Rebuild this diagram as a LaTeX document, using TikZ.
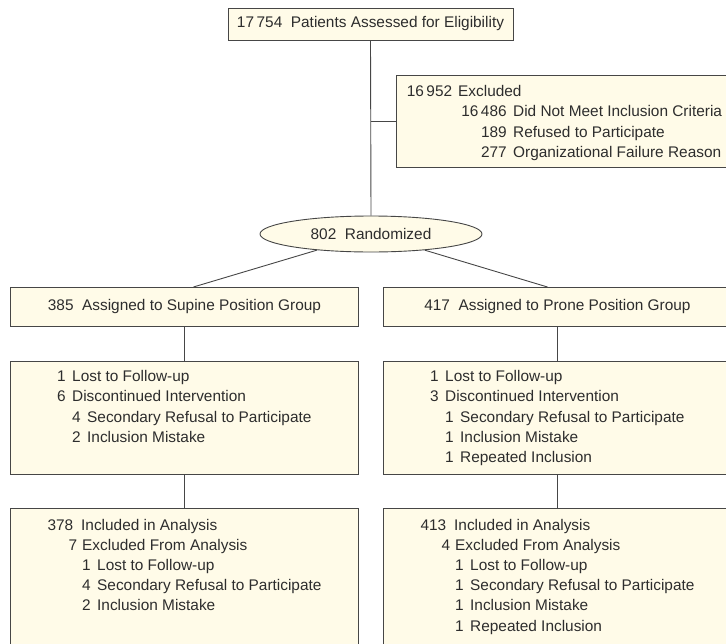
\documentclass[tikz,border=0pt]{standalone}
\usepackage{fontspec}
\setmainfont{Liberation Sans}
\usetikzlibrary{calc,shapes.geometric}

\definecolor{cream}{RGB}{255,251,232}
\definecolor{edge}{RGB}{70,70,70}
\definecolor{ink}{RGB}{45,45,45}

% one line of a count list: text starts at #2, count right-aligned before it
\newcommand{\flowrow}[4][6.5pt]{\makebox[#2][r]{#3\hspace{#1}}#4}

\begin{document}
\begin{tikzpicture}[x=1pt, y=-1pt,
  stagebox/.style={draw=edge, fill=cream, line width=0.9pt, inner sep=0pt, anchor=north west},
  oval/.style={ellipse, draw=edge, fill=cream, line width=0.9pt, inner sep=0pt,
    minimum width=222pt, minimum height=36pt},
  txt/.style={font=\fontsize{15.4}{20.2}\selectfont, text=ink, inner sep=0pt},
  list/.style={txt, anchor=base west},
  link/.style={draw=edge, line width=0.9pt}]

  \useasboundingbox (0,0) rectangle (726,643);
  \clip (0,0) rectangle (726,643);

  % enrollment
  \node[stagebox, txt, anchor=center, minimum width=285pt, minimum height=32pt]
    (assess) at (370.5,24) {17\,754\ \ Patients Assessed for Eligibility};
  \node[oval, txt] (rand) at (371,234) {802\ \ Randomized};

  % excluded before randomization
  \node[stagebox, minimum width=354pt, minimum height=92pt] (excl) at (396,75) {};
  \node[list] (excltxt) at ($(excl.north west)+(0,21.7)$) {\begin{tabular}[t]{@{}l@{}}
    \flowrow[6pt]{62pt}{16\,952}{Excluded}\\
    \flowrow{117pt}{16\,486}{Did Not Meet Inclusion Criteria}\\
    \flowrow{117pt}{189}{Refused to Participate}\\
    \flowrow{117pt}{277}{Organizational Failure Reason}
  \end{tabular}};

  % allocation
  \node[stagebox, txt, minimum width=348pt, minimum height=39pt] (supine) at (10,287) {};
  \node[txt] (supinetxt) at (supine.center) {385\ \ Assigned to Supine Position Group};
  \node[stagebox, txt, minimum width=348pt, minimum height=39pt] (prone) at (383,287) {};
  \node[txt] (pronetxt) at (prone.center) {417\ \ Assigned to Prone Position Group};

  % follow-up
  \node[stagebox, minimum width=348pt, minimum height=113pt] (dropS) at (10,361) {};
  \node[list] (dropStxt) at ($(dropS.north west)+(0,20.7)$) {\begin{tabular}[t]{@{}l@{}}
    \flowrow{62pt}{1}{Lost to Follow-up}\\
    \flowrow{62pt}{6}{Discontinued Intervention}\\
    \flowrow{77pt}{4}{Secondary Refusal to Participate}\\
    \flowrow{77pt}{2}{Inclusion Mistake}
  \end{tabular}};
  \node[stagebox, minimum width=348pt, minimum height=113pt] (dropP) at (383,361) {};
  \node[list] (dropPtxt) at ($(dropP.north west)+(0,20.7)$) {\begin{tabular}[t]{@{}l@{}}
    \flowrow{62pt}{1}{Lost to Follow-up}\\
    \flowrow{62pt}{3}{Discontinued Intervention}\\
    \flowrow{77pt}{1}{Secondary Refusal to Participate}\\
    \flowrow{77pt}{1}{Inclusion Mistake}\\
    \flowrow{77pt}{1}{Repeated Inclusion}
  \end{tabular}};

  % analysis
  \node[stagebox, minimum width=348pt, minimum height=160pt] (anaS) at (10,508) {};
  \node[list] (anaStxt) at ($(anaS.north west)+(0,22)$) {\begin{tabular}[t]{@{}l@{}}
    \flowrow[8pt]{71pt}{378}{Included in Analysis}\\
    \flowrow[5pt]{72pt}{7}{Excluded From Analysis}\\
    \flowrow{87pt}{1}{Lost to Follow-up}\\
    \flowrow{87pt}{4}{Secondary Refusal to Participate}\\
    \flowrow{87pt}{2}{Inclusion Mistake}
  \end{tabular}};
  \node[stagebox, minimum width=348pt, minimum height=160pt] (anaP) at (383,508) {};
  \node[list] (anaPtxt) at ($(anaP.north west)+(0,22)$) {\begin{tabular}[t]{@{}l@{}}
    \flowrow[8pt]{71pt}{413}{Included in Analysis}\\
    \flowrow[5pt]{72pt}{4}{Excluded From Analysis}\\
    \flowrow{87pt}{1}{Lost to Follow-up}\\
    \flowrow{87pt}{1}{Secondary Refusal to Participate}\\
    \flowrow{87pt}{1}{Inclusion Mistake}\\
    \flowrow{87pt}{1}{Repeated Inclusion}
  \end{tabular}};

  % connectors
  \draw[link] (assess.south) -- (rand.north);
  \draw[link] (excl.west) -- (excl.west -| rand.north);
  \draw[link] (rand) -- ($(supine.north)+(9,0)$);
  \draw[link] (rand) -- ($(prone.north)+(-10,0)$);
  \draw[link] (supine.south) -- (dropS.north);
  \draw[link] (dropS.south) -- (anaS.north);
  \draw[link] (prone.south) -- (dropP.north);
  \draw[link] (dropP.south) -- (anaP.north);
\end{tikzpicture}
\end{document}
